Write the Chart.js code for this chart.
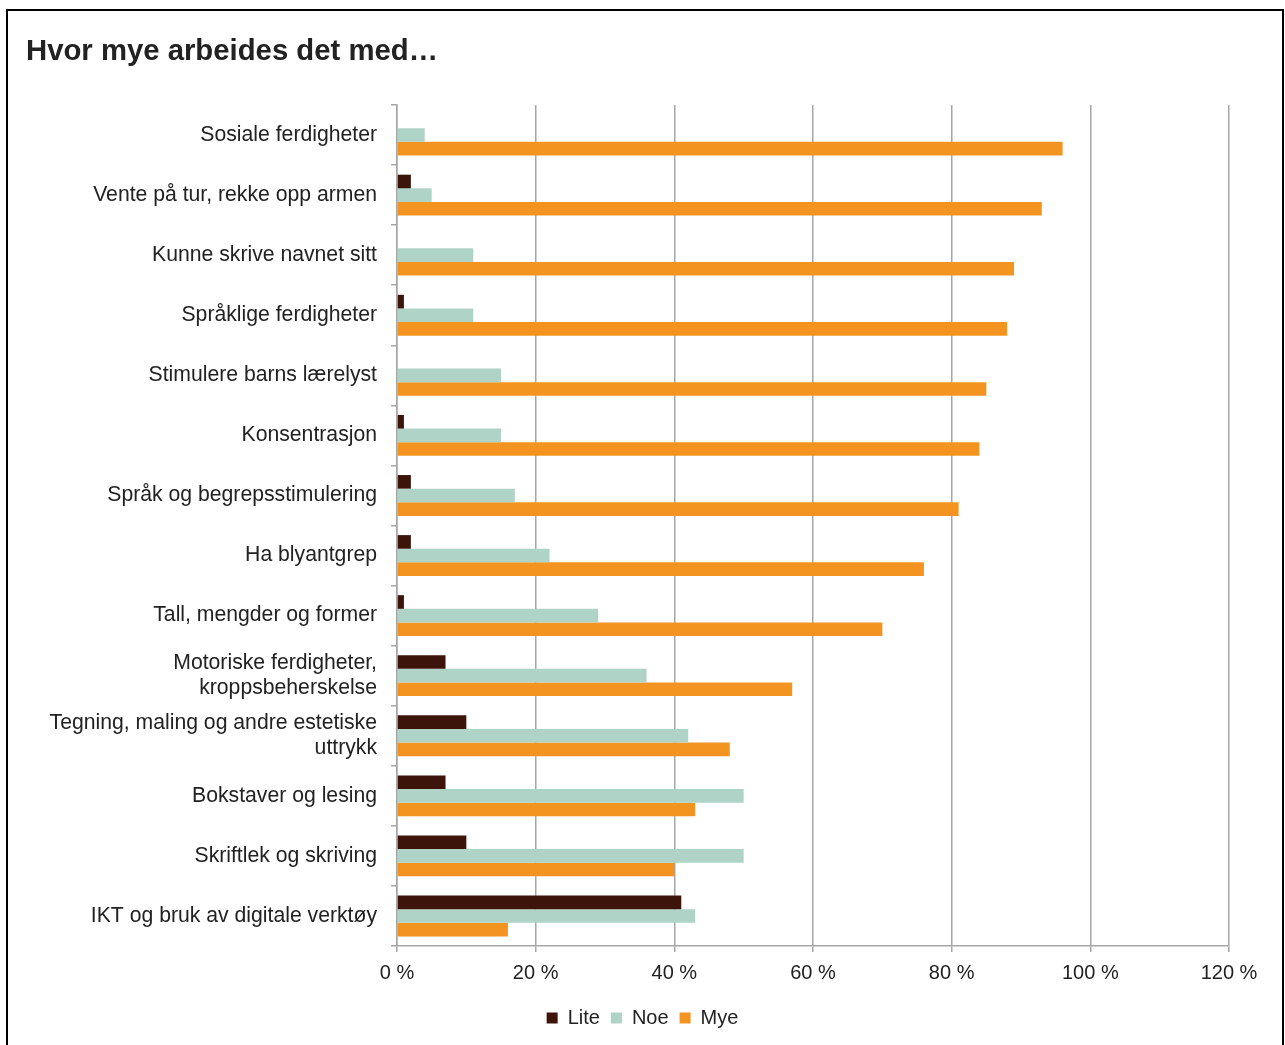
<!DOCTYPE html>
<html>
<head>
<meta charset="utf-8">
<script src="https://cdn.jsdelivr.net/npm/chart.js@4/dist/chart.umd.min.js"></script>
<style>
  body { margin: 0; background: #fff; font-family: "Liberation Sans", Arial, sans-serif; }
  #frame { position: absolute; left: 6px; top: 9px; width: 1274px; height: 1100px; border: 2px solid #000; }
  #title { position: absolute; left: 26px; top: 35px; font: bold 29.3px/29px "Liberation Sans", Arial, sans-serif; color: #222; }
  #wrap { position: absolute; left: 0; top: 0; width: 1285px; height: 1045px; }
</style>
</head>
<body>
<div id="frame"></div>
<div id="wrap"><canvas id="chart"></canvas></div>
<div id="title">Hvor mye arbeides det med…</div>
<script>
// ================= DATA =================
const categories = [
    "Sosiale ferdigheter",
    "Vente på tur, rekke opp armen",
    "Kunne skrive navnet sitt",
    "Språklige ferdigheter",
    "Stimulere barns lærelyst",
    "Konsentrasjon",
    "Språk og begrepsstimulering",
    "Ha blyantgrep",
    "Tall, mengder og former",
    ["Motoriske ferdigheter,", "kroppsbeherskelse"],
    ["Tegning, maling og andre estetiske", "uttrykk"],
    "Bokstaver og lesing",
    "Skriftlek og skriving",
    "IKT og bruk av digitale verktøy"
];
const lite = [0, 2, 0, 1, 0, 1, 2, 2, 1, 7, 10, 7, 10, 41];
const noe = [4, 5, 11, 11, 15, 15, 17, 22, 29, 36, 42, 50, 50, 43];
const mye = [96, 93, 89, 88, 85, 84, 81, 76, 70, 57, 48, 43, 40, 16];
const xTicks = [0, 20, 40, 60, 80, 100, 120];

const textColor = "#222";
const gridColor = "#a6a6a6";

// ================= CHART =================
new Chart(document.getElementById("chart"), {
    type: "bar",
    data: {
        labels: categories,
        datasets: [
            { label: "Lite", data: lite, backgroundColor: "#3c1409" },
            { label: "Noe", data: noe, backgroundColor: "#afd4c7" },
            { label: "Mye", data: mye, backgroundColor: "#f49420" }
        ]
    },
    options: {
        indexAxis: "y",
        responsive: true,
        maintainAspectRatio: false,
        animation: false,
        layout: { padding: { top: 105, left: 0, right: 0, bottom: 7 } },
        datasets: { bar: { categoryPercentage: 0.68, barPercentage: 1.0 } },
        plugins: {
            tooltip: { enabled: false },
            legend: {
                position: "bottom",
                labels: {
                    color: textColor,
                    font: { family: "Liberation Sans", size: 20 },
                    boxWidth: 11,
                    boxHeight: 11,
                    padding: 11
                }
            }
        },
        scales: {
            x: {
                min: xTicks[0],
                max: xTicks[xTicks.length - 1],
                afterFit: s => { s.paddingRight = 56; s.height = 51; },
                afterBuildTicks: s => { s.ticks = xTicks.map(v => ({ value: v })); },
                ticks: {
                    color: textColor,
                    font: { family: "Liberation Sans", size: 20 },
                    padding: 9,
                    callback: v => v + " %"
                },
                grid: { color: gridColor, lineWidth: 1.5, tickLength: 6 },
                border: { color: gridColor, width: 1.5 }
            },
            y: {
                afterFit: s => { s.width = 397; },
                ticks: {
                    color: textColor,
                    font: { family: "Liberation Sans", size: 21.2, lineHeight: 1.15 },
                    padding: 14
                },
                grid: { drawOnChartArea: false, color: gridColor, lineWidth: 1.5, tickLength: 6 },
                border: { color: gridColor, width: 1.5 }
            }
        }
    }
});
</script>
</body>
</html>
